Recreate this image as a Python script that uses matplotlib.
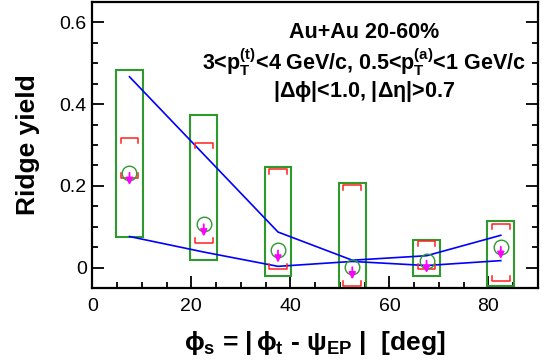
## Ridge yield vs trigger angle from event plane
import matplotlib
matplotlib.use('Agg')
import matplotlib.pyplot as plt
from matplotlib.patches import Rectangle
from matplotlib.ticker import MultipleLocator

plt.rcParams['font.family'] = ['Liberation Sans', 'DejaVu Sans']
plt.rcParams['mathtext.fontset'] = 'custom'
plt.rcParams['mathtext.rm'] = 'Liberation Sans:bold'
plt.rcParams['mathtext.it'] = 'Liberation Sans:bold'
plt.rcParams['mathtext.bf'] = 'Liberation Sans:bold'
plt.rcParams['mathtext.sf'] = 'Liberation Sans:bold'

###################
# data
phi_s = [7.5, 22.5, 37.5, 52.5, 67.5, 82.5]
yield_val = [0.232, 0.106, 0.042, 0.001, 0.017, 0.051]
# red brackets (systematic)
sys_hi = [0.318, 0.305, 0.241, 0.203, 0.066, 0.107]
sys_lo = [0.219, 0.060, -0.003, -0.045, -0.003, -0.032]
# green boxes
box_hi = [0.483, 0.374, 0.246, 0.206, 0.068, 0.115]
box_lo = [0.075, 0.019, -0.021, -0.060, -0.021, -0.044]
# blue band
band_hi = [0.467, 0.277, 0.087, 0.018, 0.029, 0.079]
band_lo = [0.076, 0.038, 0.003, 0.015, 0.005, 0.017]

fig = plt.figure(figsize=(5.54, 3.64), dpi=100)
ax = fig.add_axes([0.1667, 0.2088, 0.8043, 0.7857])

green = '#2e9a2e'
for x, lo, hi in zip(phi_s, box_lo, box_hi):
	ax.add_patch(Rectangle((x - 2.7, lo), 5.4, hi - lo, fill=False,
		edgecolor=green, lw=1.5, zorder=2))

ax.plot(phi_s, band_hi, color='#0000ff', lw=1.2, zorder=3)
ax.plot(phi_s, band_lo, color='#0000ff', lw=1.2, zorder=3)

# brackets
w = 1.8
leg = 0.012
for x, lo, hi in zip(phi_s, sys_lo, sys_hi):
	ax.plot([x - w, x - w, x + w, x + w], [hi - leg, hi, hi, hi - leg],
		color='#ff2020', lw=1.1, zorder=4)
	ax.plot([x - w, x - w, x + w, x + w], [lo + leg, lo, lo, lo + leg],
		color='#ff2020', lw=1.1, zorder=4)

ax.plot(phi_s, yield_val, 'o', mfc='none', mec=green, ms=10.5, mew=1.0, zorder=5)
for x, y in zip(phi_s, yield_val):
	ax.annotate('', xy=(x, y - 0.03), xytext=(x, y),
		arrowprops=dict(arrowstyle='-|>', color='#ff00ff', lw=1.3,
			mutation_scale=10, shrinkA=0, shrinkB=0), zorder=6)

ax.set_xlim(0, 90)
ax.set_ylim(-0.05, 0.65)
ax.xaxis.set_major_locator(MultipleLocator(20))
ax.xaxis.set_minor_locator(MultipleLocator(5))
ax.yaxis.set_major_locator(MultipleLocator(0.2))
ax.yaxis.set_minor_locator(MultipleLocator(0.05))
ax.set_yticks([0, 0.2, 0.4, 0.6])
ax.set_yticklabels(['0', '0.2', '0.4', '0.6'])
ax.tick_params(which='both', direction='in', right=True, labelsize=14, width=1.3)
ax.tick_params(which='major', length=8.5, pad=4)
ax.tick_params(axis='x', which='major', pad=7)
ax.tick_params(which='minor', length=4.3)
for s in ax.spines.values():
	s.set_linewidth(1.6)

ax.set_ylabel('Ridge yield', fontsize=19, fontweight='bold', labelpad=14)
ax.set_xlabel(r'$\phi_s$ = |$\,\phi_t$ - $\psi_{EP}$ |  [deg]',
	fontsize=19, fontweight='bold', labelpad=10)

ax.text(0.609, 0.875, 'Au+Au 20-60%', transform=ax.transAxes, ha='center',
	fontsize=15.5, fontweight='bold')
ax.text(0.609, 0.762, r'3<p$_T^{(t)}$<4 GeV/c, 0.5<p$_T^{(a)}$<1 GeV/c',
	transform=ax.transAxes, ha='center', fontsize=15.5, fontweight='bold')
ax.text(0.609, 0.668, r'|$\Delta\phi$|<1.0, |$\Delta\eta$|>0.7', transform=ax.transAxes,
	ha='center', fontsize=15.5, fontweight='bold')

plt.savefig('out.png', dpi=100)
